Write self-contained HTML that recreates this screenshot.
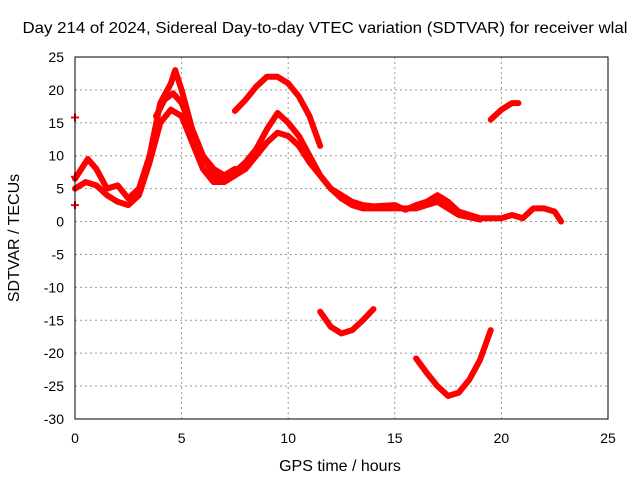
<!DOCTYPE html>
<html><head><meta charset="utf-8"><style>
body{margin:0;background:#fff}
svg text{font-family:"Liberation Sans",sans-serif;font-size:14px;fill:#000}
svg text.big{font-size:16px}
</style></head><body>
<svg width="640" height="480" id="c">
<rect width="640" height="480" fill="#fff"/>
<text class="big" x="325" y="33" text-anchor="middle" textLength="605" lengthAdjust="spacingAndGlyphs">Day 214 of 2024, Sidereal Day-to-day VTEC variation (SDTVAR) for receiver wlal</text>
<text class="big" x="340" y="471" text-anchor="middle">GPS time / hours</text>
<text class="big" transform="translate(19,238) rotate(-90)" text-anchor="middle">SDTVAR / TECUs</text>
<g id="grid"></g><g id="axes"></g><g id="marks"></g>
<rect x="75" y="57" width="533" height="362" fill="none" stroke="#000" stroke-width="1"/>
</svg>
<script>
const xTicks=[0,5,10,15,20,25];
const yTicks=[25,20,15,10,5,0,-5,-10,-15,-20,-25,-30];
const seriesA_t=[0,0.3,0.6,1,1.5,2,2.5,3,3.5,4,4.5,4.7,5,5.5,6,6.5,7,7.5];
const seriesA_v=[6.5,8,9.5,8,5,5.5,3.5,5,10,18,21,23,20,14,10,8,7,8];
const seriesB_t=[0,0.5,1,1.5,2,2.5,3,3.5,4,4.5,5,5.5,6,6.5,7,7.5];
const seriesB_v=[5,6,5.5,4,3,2.5,4,9,15,17,16,12,8,6,6,7];
const seriesC_t=[3.8,4.2,4.6,5,5.5,6,6.5,7];
const seriesC_v=[16,18.5,19.5,18,14,10,7,6];
const seriesD_t=[7.3,8,8.5,9,9.5,10,10.5,11,11.5,12,12.5,13,13.5,14,15,15.5,16,16.5,17,17.5,18,19,20,20.5,21,21.5,22,22.5,22.8];
const seriesD_v=[7,9,11,14,16.5,15,13,10,7,5,4,3,2.5,2.3,2.5,1.8,2.5,3,4,3,1.5,0.5,0.5,1,0.5,2,2,1.5,0];
const seriesE_t=[7.5,8,8.5,9,9.5,10,10.5,11,11.5,12,12.5,13,13.5,14,15,16,17,18,19];
const seriesE_v=[7,8,10,12,13.5,13,11.5,9,7,5,3.5,2.5,2,2,2,2,3,1,0.3];
const seriesF_t=[7.5,8,8.5,9,9.5,10,10.5,11,11.5];
const seriesF_v=[16.8,18.5,20.5,22,22,21,19,16,11.5];
const seriesG_t=[19.5,20,20.5,20.8];
const seriesG_v=[15.5,17,18,18];
const seriesH_t=[11.5,12,12.5,13,13.5,14];
const seriesH_v=[-13.7,-16,-17,-16.5,-15,-13.3];
const seriesI_t=[16,16.5,17,17.5,18,18.5,19,19.5];
const seriesI_v=[-20.8,-23,-25,-26.5,-26,-24,-21,-16.5];
const isolated_t=[0,0,0];
const isolated_v=[15.8,2.5,6.8];
const NS="http://www.w3.org/2000/svg";
const X=t=>75+t*(533/25);
const Y=v=>57+(25-v)*(362/55);
function mk(tag,parent){const e=document.createElementNS(NS,tag);document.getElementById(parent).appendChild(e);return e;}
xTicks.forEach(t=>{
 if(t>0&&t<25){const g=mk('line','grid');g.setAttribute('x1',X(t));g.setAttribute('x2',X(t));g.setAttribute('y1',57);g.setAttribute('y2',419);g.setAttribute('stroke','#999');g.setAttribute('stroke-dasharray','2,3');
 
 }
 const l=mk('text','axes');l.textContent=t;l.setAttribute('x',X(t));l.setAttribute('y',443);l.setAttribute('text-anchor','middle');
 
 
});
yTicks.forEach(v=>{
 if(v<25&&v>-30){const g=mk('line','grid');g.setAttribute('x1',75);g.setAttribute('x2',608);g.setAttribute('y1',Y(v));g.setAttribute('y2',Y(v));g.setAttribute('stroke','#999');g.setAttribute('stroke-dasharray','2,3');
 
 }
 const l=mk('text','axes');l.textContent=v;l.setAttribute('x',64);l.setAttribute('y',Y(v)+5);l.setAttribute('text-anchor','end');
 
 
});
const all=[[seriesA_t,seriesA_v],[seriesB_t,seriesB_v],[seriesC_t,seriesC_v],[seriesD_t,seriesD_v],[seriesE_t,seriesE_v],[seriesF_t,seriesF_v],[seriesG_t,seriesG_v],[seriesH_t,seriesH_v],[seriesI_t,seriesI_v]];
all.forEach(([ts,vs],i)=>{
 const p=mk('polyline','marks');
 p.setAttribute('points',ts.map((t,j)=>X(t)+','+Y(vs[j])).join(' '));
 p.setAttribute('fill','none');p.setAttribute('stroke','#f00');p.setAttribute('stroke-width','6');p.setAttribute('stroke-linejoin','round');p.setAttribute('stroke-linecap','round');
 
 
});
isolated_t.forEach((t,j)=>{
 const p=mk('path','marks');const x=X(t),y=Y(isolated_v[j]);
 p.setAttribute('d',`M${x-4},${y}H${x+4}M${x},${y-4}V${y+4}`);p.setAttribute('stroke','#f00');p.setAttribute('stroke-width','2');
 
 
});
</script>
</body></html>
